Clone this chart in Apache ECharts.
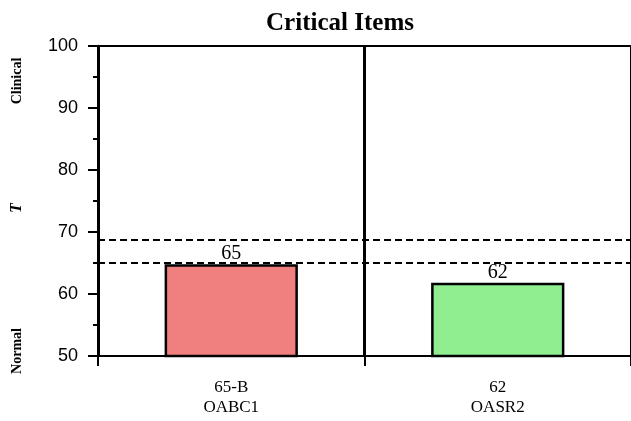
<!DOCTYPE html>
<html>
<head>
<meta charset="utf-8">
<script src="https://cdn.jsdelivr.net/npm/echarts@6/dist/echarts.min.js"></script>
<style>html,body{margin:0;padding:0;background:#fff}#c{width:631px;height:421px}</style>
</head>
<body>
<div id="c"></div>
<script>
const categories = ['65-B\nOABC1', '62\nOASR2'];
const values = [64.8, 61.8];
const labels = ['65', '62'];
const colors = ['#F08080', '#90EE90'];
const refLines = [65.1, 68.7];
const yTicks = {min: 50, max: 100, interval: 10};

const chart = echarts.init(document.getElementById('c'));
chart.setOption({
  animation: false,
  title: {
    text: 'Critical Items', left: 335, textAlign: 'center', top: 6,
    textStyle: {fontFamily: 'Liberation Serif', fontWeight: 'bold', fontSize: 25, color: '#000'}
  },
  grid: {left: 98, top: 46, width: 536, height: 310, show: true, borderColor: '#000', borderWidth: 2, backgroundColor: 'transparent'},
  xAxis: {
    type: 'category', data: categories,
    axisLine: {lineStyle: {color: '#000', width: 2}},
    axisTick: {show: true, length: 10, lineStyle: {color: '#000', width: 2}},
    splitLine: {show: true, lineStyle: {color: '#000', width: 3}},
    axisLabel: {fontFamily: 'Liberation Serif', fontSize: 17, color: '#000', lineHeight: 20, margin: 22}
  },
  yAxis: {
    type: 'value', min: yTicks.min, max: yTicks.max, interval: yTicks.interval,
    axisLine: {show: true, lineStyle: {color: '#000', width: 2.5}},
    axisTick: {show: true, length: 10, lineStyle: {color: '#000', width: 2}},
    minorTick: {show: true, splitNumber: 2, length: 5, lineStyle: {color: '#000', width: 2}},
    splitLine: {show: false},
    axisLabel: {fontFamily: 'Liberation Sans', fontSize: 18, color: '#000', margin: 20}
  },
  graphic: [
    {type: 'text', x: 17, y: 81, rotation: Math.PI / 2, style: {text: 'Clinical', font: 'bold 14px "Liberation Serif"', fill: '#000', textAlign: 'center', textVerticalAlign: 'middle'}},
    {type: 'text', x: 17, y: 208, rotation: Math.PI / 2, style: {text: 'T', font: 'italic bold 16px "Liberation Serif"', fill: '#000', textAlign: 'center', textVerticalAlign: 'middle'}},
    {type: 'text', x: 17, y: 351, rotation: Math.PI / 2, style: {text: 'Normal', font: 'bold 14px "Liberation Serif"', fill: '#000', textAlign: 'center', textVerticalAlign: 'middle'}}
  ],
  series: [{
    type: 'bar', barWidth: '50%',
    data: values.map((v, i) => ({value: v, itemStyle: {color: colors[i]}, label: {formatter: labels[i]}})),
    itemStyle: {borderColor: '#000', borderWidth: 2.5},
    label: {show: true, position: 'top', distance: 0, fontFamily: 'Liberation Serif', fontSize: 20, color: '#000'},
    markLine: {
      silent: true, symbol: ['none', 'none'], label: {show: false},
      lineStyle: {color: '#000', type: [7, 4], width: 2},
      data: refLines.map(v => ({yAxis: v}))
    }
  }]
});
</script>
</body>
</html>
